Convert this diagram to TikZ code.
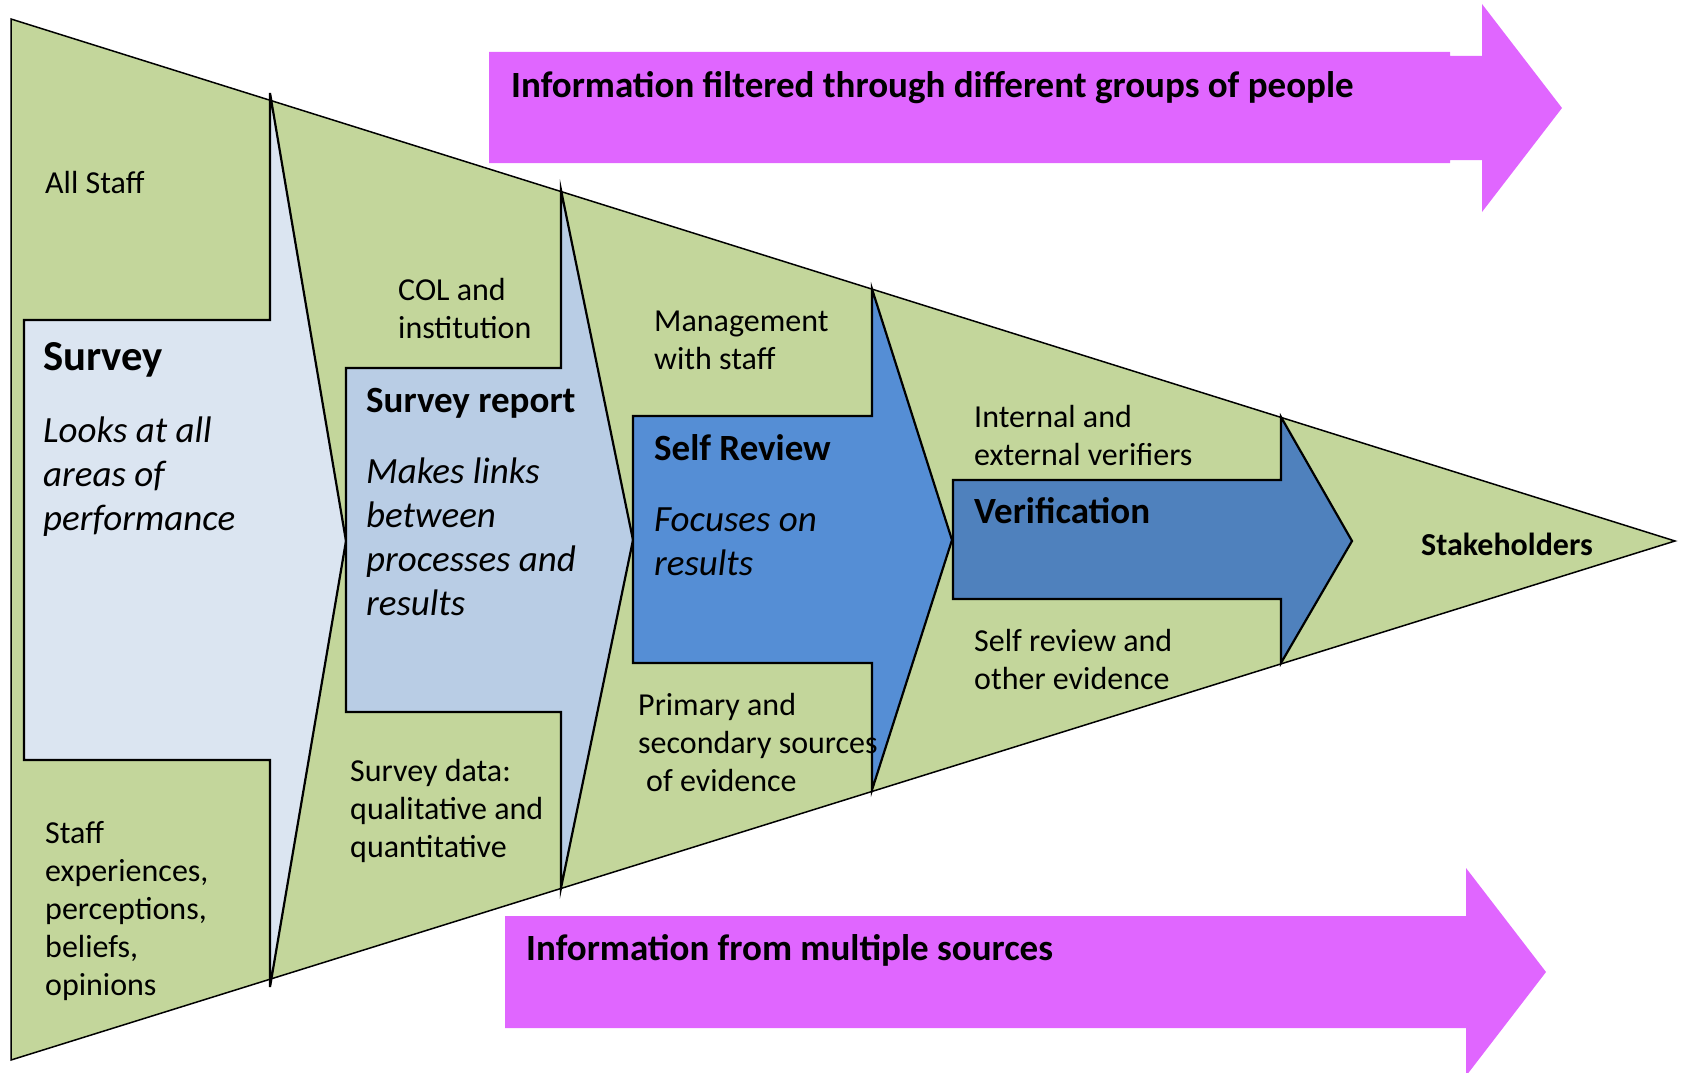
\documentclass[tikz,border=0pt]{standalone}
\usepackage{fontspec}
\setmainfont{Carlito}
\definecolor{trigreen}{HTML}{C3D69B}
\definecolor{survcol}{HTML}{DBE5F1}
\definecolor{repcol}{HTML}{B9CDE5}
\definecolor{revcol}{HTML}{558ED5}
\definecolor{vercol}{HTML}{4F81BD}
\definecolor{magcol}{HTML}{E066FF}
\begin{document}
\begin{tikzpicture}[x=1pt,y=-1pt,line join=miter]
\useasboundingbox (0,0) rectangle (1684,1073);
\tikzset{
  triout/.style={draw=black,line width=1.5pt,fill=trigreen},
  arrout/.style={draw=black,line width=2.2pt},
  magarrow/.style={fill=magcol,draw=none},
  reg/.style={anchor=base west,inner sep=0pt,align=left,font=\fontsize{32}{37.8}\selectfont},
  ital/.style={anchor=base west,inner sep=0pt,align=left,font=\fontsize{37}{44}\selectfont\itshape},
  ttl/.style={anchor=base west,inner sep=0pt,font=\fontsize{37}{44}\selectfont\bfseries},
}
% magenta arrows
\path[magarrow] (489,52) -- (1450,52) -- (1450,56) -- (1482,56) -- (1482,4) -- (1562,108)
  -- (1482,212) -- (1482,160) -- (1450,160) -- (1450,163) -- (489,163) -- cycle;
\path[magarrow] (505,916) -- (1466,916) -- (1466,868) -- (1546,972) -- (1466,1076)
  -- (1466,1028) -- (505,1028) -- cycle;
% big triangle
\path[triout] (11,19) -- (1675,541) -- (11,1060) -- cycle;
% survey arrow
\path[arrout,fill=survcol] (24,320) -- (270,320) -- (270,93) -- (346,541) -- (270,987)
  -- (270,760) -- (24,760) -- cycle;
% survey report arrow
\path[arrout,fill=repcol] (346,368) -- (561,368) -- (561,190) -- (633,540) -- (561,888)
  -- (561,712) -- (346,712) -- cycle;
% self review arrow
\path[arrout,fill=revcol] (633,416) -- (872,416) -- (872,289) -- (952,540) -- (872,790)
  -- (872,663) -- (633,663) -- cycle;
% verification arrow
\path[arrout,fill=vercol] (953,480) -- (1281,480) -- (1281,417) -- (1352,541) -- (1281,663)
  -- (1281,599) -- (953,599) -- cycle;
% texts (multi-line nodes are placed by the baseline of their last line)
\node[reg] (allstaff) at (45,193) {All Staff};
\node[ttl,font=\fontsize{42.7}{50}\selectfont\bfseries] (survey) at (43,370) {Survey};
\node[ital] (surveyd) at (43,530) {Looks at all\\areas of\\performance};
\node[reg] (staff) at (45,995) {Staff\\experiences,\\perceptions,\\beliefs,\\opinions};
\node[reg] (col) at (398,338) {COL and\\institution};
\node[ttl] (srep) at (366,412) {Survey report};
\node[ital] (srepd) at (366,615) {Makes links\\between\\processes and\\results};
\node[reg] (sdata) at (350,857) {Survey data:\\qualitative and\\quantitative};
\node[reg] (mgmt) at (654,369) {Management\\with staff};
\node[ttl] (srev) at (654,460) {Self Review};
\node[ital] (srevd) at (654,575) {Focuses on\\results};
\node[reg] (prim) at (638,791) {Primary and\\secondary sources\\\hspace*{8pt}of evidence};
\node[reg] (intl) at (974,465) {Internal and\\external verifiers};
\node[ttl] (verif) at (974,523) {Verification};
\node[reg] (selfrev) at (974,689) {Self review and\\other evidence};
\node[ttl,font=\fontsize{32}{38}\selectfont\bfseries] (stake) at (1421,555) {Stakeholders};
\node[ttl] (info1) at (511,97) {Information filtered through different groups of people};
\node[ttl] (info2) at (526,960) {Information from multiple sources};
\end{tikzpicture}
\end{document}
